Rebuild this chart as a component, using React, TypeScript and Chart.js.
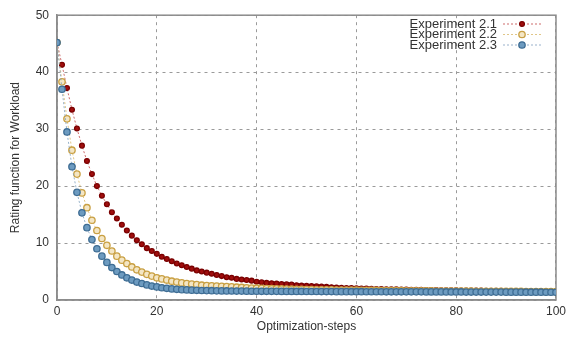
import React, { useEffect, useRef } from "react";
import { Chart, registerables } from "chart.js";

Chart.register(...registerables);

// Optimization step index 0..100
const steps: number[] = Array.from({ length: 101 }, (_, i) => i);

const exp21: number[] = [
  45.2, 41.3, 37.2, 33.4, 30.1, 27.1, 24.4, 22.1, 20.0, 18.3,
  16.8, 15.4, 14.3, 13.2, 12.2, 11.3, 10.5, 9.8, 9.1, 8.6,
  8.1, 7.6, 7.2, 6.8, 6.4, 6.1, 5.8, 5.5, 5.2, 5.0,
  4.8, 4.6, 4.4, 4.2, 4.0, 3.9, 3.7, 3.6, 3.5, 3.4,
  3.2, 3.1, 3.0, 2.95, 2.9, 2.8, 2.75, 2.7, 2.6, 2.55,
  2.5, 2.45, 2.4, 2.35, 2.3, 2.25, 2.2, 2.15, 2.1, 2.08,
  2.05, 2.02, 2.0, 1.97, 1.94, 1.92, 1.9, 1.88, 1.86, 1.84,
  1.82, 1.8, 1.78, 1.77, 1.76, 1.74, 1.73, 1.72, 1.71, 1.7,
  1.69, 1.68, 1.67, 1.66, 1.65, 1.64, 1.63, 1.62, 1.61, 1.6,
  1.59, 1.58, 1.57, 1.56, 1.55, 1.54, 1.53, 1.52, 1.51, 1.5,
  1.5,
];

const exp22: number[] = [
  45.2, 38.3, 31.8, 26.3, 22.1, 18.8, 16.2, 14.0, 12.2, 10.8,
  9.6, 8.6, 7.7, 7.0, 6.4, 5.8, 5.3, 4.9, 4.5, 4.2,
  3.9, 3.7, 3.5, 3.3, 3.15, 3.0, 2.9, 2.8, 2.7, 2.6,
  2.55, 2.5, 2.45, 2.4, 2.35, 2.3, 2.25, 2.2, 2.15, 2.1,
  2.07, 2.04, 2.01, 1.98, 1.96, 1.94, 1.92, 1.9, 1.88, 1.86,
  1.84, 1.82, 1.8, 1.79, 1.78, 1.77, 1.76, 1.75, 1.74, 1.73,
  1.72, 1.71, 1.7, 1.69, 1.68, 1.67, 1.66, 1.65, 1.64, 1.63,
  1.62, 1.61, 1.6, 1.6, 1.59, 1.59, 1.58, 1.58, 1.57, 1.57,
  1.56, 1.56, 1.55, 1.55, 1.54, 1.54, 1.53, 1.53, 1.52, 1.52,
  1.51, 1.51, 1.5, 1.5, 1.49, 1.49, 1.48, 1.48, 1.47, 1.47,
  1.46,
];

const exp23: number[] = [
  45.2, 37.0, 29.5, 23.4, 18.9, 15.3, 12.7, 10.6, 9.0, 7.7,
  6.6, 5.7, 5.0, 4.4, 3.9, 3.5, 3.15, 2.9, 2.65, 2.45,
  2.3, 2.15, 2.05, 1.95, 1.88, 1.82, 1.77, 1.73, 1.7, 1.67,
  1.65, 1.63, 1.61, 1.6, 1.59, 1.58, 1.57, 1.56, 1.55, 1.54,
  1.54, 1.53, 1.53, 1.52, 1.52, 1.51, 1.51, 1.5, 1.5, 1.5,
  1.49, 1.49, 1.49, 1.48, 1.48, 1.48, 1.47, 1.47, 1.47, 1.46,
  1.46, 1.46, 1.45, 1.45, 1.45, 1.45, 1.44, 1.44, 1.44, 1.44,
  1.43, 1.43, 1.43, 1.43, 1.42, 1.42, 1.42, 1.42, 1.41, 1.41,
  1.41, 1.41, 1.4, 1.4, 1.4, 1.4, 1.39, 1.39, 1.39, 1.39,
  1.38, 1.38, 1.38, 1.38, 1.37, 1.37, 1.37, 1.37, 1.36, 1.36,
  1.36,
];

const seriesLabels = ["Experiment 2.1", "Experiment 2.2", "Experiment 2.3"];
const xTitle = "Optimization-steps";
const yTitle = "Rating function for Workload";

const FONT = "Arial, 'Liberation Sans', sans-serif";
const TEXT = "#333333";
const GRID = "#9a9a9a";
const FRAME = "#8c8c8c";

// Point style per series
const styles = [
  { line: "#c04848", border: "#7a0000", fill: "#a00d0d", radius: 2.4 },
  { line: "#d8b86a", border: "#c9a043", fill: "#f4e6c4", radius: 3.2 },
  { line: "#7f9fbd", border: "#3e6d94", fill: "#6d9bc0", radius: 3.2 },
];

// Axis titles and a gnuplot-style key (text right-aligned, sample to its right)
const decorations = {
  id: "decorations",
  afterDraw(chart: Chart) {
    const { ctx, chartArea } = chart;
    ctx.save();
    ctx.fillStyle = TEXT;
    ctx.font = `12px ${FONT}`;
    ctx.textAlign = "center";
    ctx.textBaseline = "middle";
    ctx.fillText(xTitle, (chartArea.left + chartArea.right) / 2, 327);
    ctx.save();
    ctx.translate(16, (chartArea.top + chartArea.bottom) / 2);
    ctx.rotate(-Math.PI / 2);
    ctx.fillText(yTitle, 0, 0);
    ctx.restore();

    ctx.font = `13px ${FONT}`;
    ctx.textAlign = "right";
    const rows = [24, 34.5, 45];
    seriesLabels.forEach((label, i) => {
      const y = rows[i];
      ctx.fillStyle = TEXT;
      ctx.fillText(label, 497, y);
      const st = styles[i];
      ctx.strokeStyle = st.line;
      ctx.lineWidth = 0.8;
      ctx.setLineDash([2, 2]);
      ctx.beginPath();
      ctx.moveTo(503, y);
      ctx.lineTo(541, y);
      ctx.stroke();
      ctx.setLineDash([]);
      ctx.beginPath();
      ctx.arc(522, y, st.radius, 0, Math.PI * 2);
      ctx.fillStyle = st.fill;
      ctx.fill();
      ctx.strokeStyle = st.border;
      ctx.lineWidth = 1.3;
      ctx.stroke();
    });
    ctx.restore();
  },
};

const frame = {
  id: "frame",
  beforeDatasetsDraw(chart: Chart) {
    const { ctx, chartArea } = chart;
    ctx.save();
    ctx.strokeStyle = FRAME;
    ctx.lineWidth = 1.5;
    ctx.strokeRect(chartArea.left, chartArea.top, chartArea.right - chartArea.left, chartArea.bottom - chartArea.top);
    ctx.restore();
  },
};

export default function App() {
  const ref = useRef<HTMLCanvasElement | null>(null);

  useEffect(() => {
    if (!ref.current) return;
    const series = [exp21, exp22, exp23];
    // draw 2.3 first so 2.1 sits on top
    const datasets = series
      .map((vals, i) => ({
        label: seriesLabels[i],
        data: steps.map((x, k) => ({ x, y: vals[k] })),
        borderColor: styles[i].line,
        borderWidth: 0.8,
        borderDash: [2, 2],
        pointRadius: styles[i].radius,
        pointBackgroundColor: styles[i].fill,
        pointBorderColor: styles[i].border,
        pointBorderWidth: 1.3,
        tension: 0,
      }))
      .reverse();

    const chart = new Chart(ref.current, {
      type: "line",
      data: { datasets },
      options: {
        responsive: false,
        animation: false,
        events: [],
        layout: { padding: { left: 0, right: 14, top: 14, bottom: 0 } },
        plugins: { legend: { display: false }, tooltip: { enabled: false } },
        scales: {
          x: {
            type: "linear",
            min: 0,
            max: 100,
            ticks: { stepSize: 20, color: TEXT, font: { size: 12, family: FONT }, padding: 4, maxRotation: 0 },
            grid: { color: GRID, lineWidth: 1, drawTicks: false },
            border: { color: FRAME, width: 1.5, dash: [3, 4] },
            afterFit: (s: any) => { s.height = 41; },
          },
          y: {
            min: 0,
            max: 50,
            ticks: { stepSize: 10, color: TEXT, font: { size: 12, family: FONT }, padding: 8 },
            grid: { color: GRID, lineWidth: 1, drawTicks: false },
            border: { color: FRAME, width: 1.5, dash: [3, 4] },
            afterFit: (s: any) => { s.width = 57; },
          },
        },
      },
      plugins: [frame, decorations],
    } as any);
    return () => chart.destroy();
  }, []);

  return (
    <div style={{ position: "fixed", left: 0, top: 0, width: 570, height: 341, background: "#fff" }}>
      <canvas ref={ref} width={570} height={341} />
    </div>
  );
}
